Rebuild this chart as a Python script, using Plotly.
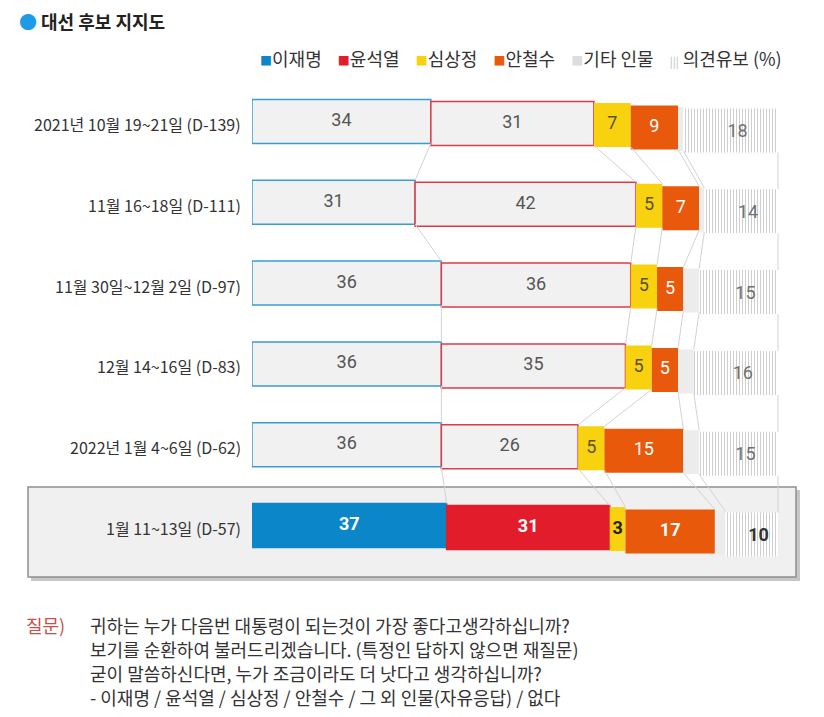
import plotly.graph_objects as go

# ---------------- data ----------------
periods = ["2021년 10월 19~21일 (D-139)", "11월 16~18일 (D-111)", "11월 30일~12월 2일 (D-97)",
           "12월 14~16일 (D-83)", "2022년 1월 4~6일 (D-62)", "1월 11~13일 (D-57)"]
series_names = ["이재명", "윤석열", "심상정", "안철수", "기타 인물", "의견유보"]
lee = [34, 31, 36, 36, 36, 37]
yoon = [31, 42, 36, 35, 26, 31]
sim = [7, 5, 5, 5, 5, 3]
ahn = [9, 7, 5, 5, 15, 17]
other = [1, 1, 3, 3, 3, 2]
undecided = [18, 14, 15, 16, 15, 10]
question_lines = [
    "귀하는 누가 다음번 대통령이 되는것이 가장 좋다고생각하십니까?",
    "보기를 순환하여 불러드리겠습니다. (특정인 답하지 않으면 재질문)",
    "굳이 말씀하신다면, 누가 조금이라도 더 낫다고 생각하십니까?",
    "- 이재명 / 윤석열 / 심상정 / 안철수 / 그 외 인물(자유응답) / 없다",
]

series = [lee, yoon, sim, ahn, other, undecided]
n = len(periods)
last = n - 1

# ---------------- layout geometry (page has an 8px body margin) ----------------
OFF = 8
W, H = 824 - OFF, 717 - OFF
PL, PR, PT, PB = 252, 800, 81, 566          # plot area in screen pixels
ML, MR, MT, MB = PL - OFF, (W + OFF) - PR, PT - OFF, (H + OFF) - PB
PW, PH = PR - PL, PB - PT
XMAX = PW / 5.26
YPX = PH / 6.0


def px2x(p):
    return (p - PL) / PW


def py2y(p):
    return (PB - p) / PH


FONT = "Noto Sans CJK KR"
NUMFONT = "Roboto"

bar_w = 44 / YPX
shift_px = [0, 2, 3.5, 6, 7.5, 9]
shifts = [s / YPX for s in shift_px]

soft_fill = "#f1f1f1"
blue_line, red_line = "#3a9dd0", "#e03a47"
blue_solid, red_solid = "#0b87c9", "#e21c2b"
yellow, orange = "#f8d20f", "#e8590c"
other_col = "#ececec"

# cumulative bases
bases = []
for i in range(n):
    b, acc = [], 0
    for s in series:
        b.append(acc)
        acc += s[i]
    bases.append(b)

fig = go.Figure()

# connectors between rows
cx, cy = [], []
for k in range(len(series)):
    for i in range(n - 1):
        x0 = bases[i][k] + series[k][i]
        x1 = bases[i + 1][k] + series[k][i + 1]
        y0 = i - bar_w / 2 + shifts[k] + bar_w
        y1 = i + 1 - bar_w / 2 + shifts[k]
        cx += [x0, x1, None]
        cy += [y0, y1, None]
fig.add_trace(go.Scatter(x=cx, y=cy, mode="lines", line=dict(color="#d2d2d2", width=1),
                         hoverinfo="skip", showlegend=False))

ys = list(range(n))
for k, s in enumerate(series):
    base = [bases[i][k] for i in range(n)]
    if k == 0:
        fill = [soft_fill] * last + [blue_solid]
        lc = [blue_line] * last + [blue_solid]
        lw = 1.5
        pattern = None
    elif k == 1:
        fill = [soft_fill] * last + [red_solid]
        lc = [red_line] * last + [red_solid]
        lw = 1.5
        pattern = None
    elif k == 2:
        fill, lc, lw, pattern = yellow, yellow, 0, None
    elif k == 3:
        fill, lc, lw, pattern = orange, orange, 0, None
    elif k == 4:
        fill, lc, lw, pattern = other_col, other_col, 0, None
    else:
        fill, lc, lw = "white", "white", 0
        pattern = dict(shape="|", size=3, solidity=0.35, fgcolor="#9e9e9e", bgcolor="white")
    marker = dict(color=fill, line=dict(color=lc, width=lw))
    if pattern:
        marker["pattern"] = pattern
    fig.add_trace(go.Bar(
        x=s, y=ys, base=base, orientation="h", width=bar_w,
        offset=-bar_w / 2 + shifts[k], marker=marker, name=series_names[k],
        hoverinfo="skip", showlegend=False,
    ))

# value labels
text_colors = {
    0: ["#555555"] * last + ["white"],
    1: ["#555555"] * last + ["white"],
    2: ["#5a5030"] * last + ["#222222"],
    3: ["white"] * n,
    5: ["#707070"] * last + ["#333333"],
}
for k, s in enumerate(series):
    if k == 4:
        continue
    xs = [bases[i][k] + s[i] / 2 + (1.3 if k == 5 else 0) for i in range(n)]
    yv = [i + shifts[k] + (2 / YPX if k == 5 else 0) for i in range(n)]
    txt = [str(v) if i < last else f"<b>{v}</b>" for i, v in enumerate(s)]
    fig.add_trace(go.Scatter(
        x=xs, y=yv, mode="text", text=txt,
        textfont=dict(family=NUMFONT, size=18, color=text_colors[k]),
        hoverinfo="skip", showlegend=False,
    ))

annotations = []
# row labels
for i, p in enumerate(periods):
    annotations.append(dict(x=0, y=i + 0.03, xref="x", yref="y", text=p, showarrow=False,
                            xanchor="right", yanchor="middle", xshift=-9,
                            font=dict(family=FONT, size=16, color="#333333")))

# title
annotations.append(dict(x=px2x(17), y=py2y(21), xref="paper", yref="paper",
                        text='<span style="color:#1e9be6">●</span> <b>대선 후보 지지도</b>',
                        showarrow=False, xanchor="left", yanchor="middle",
                        font=dict(family=FONT, size=18, color="#222222")))

# legend
leg_cols = [blue_solid, red_solid, yellow, orange, "#dddddd", "#bbbbbb"]
parts = []
for k, nm in enumerate(series_names):
    if k == 5:
        sym = '<span style="color:#bbbbbb;font-size:11px">|||</span> '
        parts.append(sym + nm + " (%)")
    else:
        sym = f'<span style="color:{leg_cols[k]};font-size:12px">■</span>'
        parts.append(sym + nm)
annotations.append(dict(x=px2x(784), y=py2y(58), xref="paper", yref="paper",
                        text="&nbsp;&nbsp;&nbsp;&nbsp;".join(parts), showarrow=False,
                        xanchor="right", yanchor="middle",
                        font=dict(family=FONT, size=18, color="#333333")))

# question
annotations.append(dict(x=px2x(24), y=py2y(625), xref="paper", yref="paper", text="질문)",
                        showarrow=False, xanchor="left", yanchor="middle",
                        font=dict(family=FONT, size=18, color="#c8504a")))
for j, line in enumerate(question_lines):
    annotations.append(dict(x=px2x(88), y=py2y(625 + 24 * j), xref="paper", yref="paper",
                            text=line, showarrow=False, xanchor="left", yanchor="middle",
                            font=dict(family=FONT, size=18, color="#333333")))

shapes = [
    dict(type="rect", xref="paper", yref="paper", layer="below",
         x0=px2x(31), x1=px2x(800), y0=py2y(490), y1=py2y(581),
         fillcolor="rgba(0,0,0,0.22)", line=dict(width=0)),
    dict(type="rect", xref="paper", yref="paper", layer="below",
         x0=px2x(28), x1=px2x(796), y0=py2y(487), y1=py2y(577),
         fillcolor="#f0f0f0", line=dict(color="#8f8f8f", width=1.5)),
]

fig.update_layout(
    width=W, height=H, margin=dict(l=ML, r=MR, t=MT, b=MB, autoexpand=False),
    barmode="overlay", paper_bgcolor="white", plot_bgcolor="rgba(0,0,0,0)",
    xaxis=dict(range=[0, XMAX], visible=False, fixedrange=True),
    yaxis=dict(range=[n - 0.5, -0.5], visible=False, fixedrange=True),
    annotations=annotations, shapes=shapes, showlegend=False,
    font=dict(family=FONT),
)

fig.write_html("out.html")
